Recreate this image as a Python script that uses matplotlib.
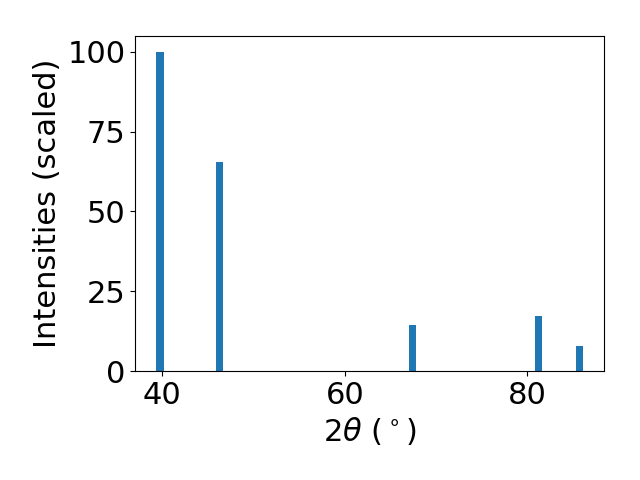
import matplotlib
matplotlib.use("Agg")
import matplotlib.pyplot as plt

# peak positions (2theta, degrees) and scaled intensities
two_theta = [39.76, 46.24, 67.45, 81.24, 85.68]
intensities = [100.0, 65.6, 14.5, 17.3, 7.9]

plt.rcParams["font.size"] = 22

fig, ax = plt.subplots(figsize=(6.4, 4.8), dpi=100)
ax.bar(two_theta, intensities, width=0.8, color="#1f77b4")
ax.set_xlabel(r"$2\theta$ ($^\circ$)")
ax.set_ylabel("Intensities (scaled)")
ax.set_yticks([0, 25, 50, 75, 100])

fig.subplots_adjust(left=0.211, right=0.944, top=0.925, bottom=0.227)
plt.savefig("out.png")
